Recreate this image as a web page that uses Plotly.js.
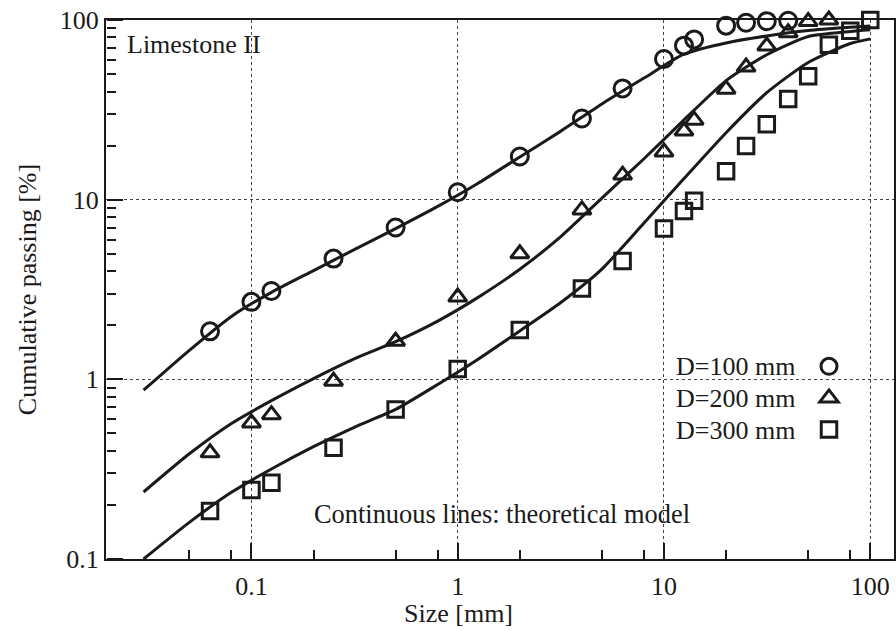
<!DOCTYPE html>
<html>
<head>
<meta charset="utf-8">
<script src="https://cdn.plot.ly/plotly-3.0.1.min.js"></script>
<style>html,body{margin:0;padding:0;background:#fff;}</style>
</head>
<body>
<div id="chart" style="width:896px;height:630px;"></div>
<script>
// ---- data ----
const sieveSizes = [0.063, 0.1, 0.125, 0.25, 0.5, 1, 2, 4, 6.3, 10, 12.5, 14, 20, 25, 31.5, 40, 50, 63, 80, 100];
const passD100 = [1.85, 2.7, 3.1, 4.7, 7.0, 11.0, 17.4, 28.3, 41.6, 60.7, 72, 78, 93, 96.5, 98.5, 99];
const passD200 = [0.39, 0.572, 0.636, 0.976, 1.63, 2.87, 5.0, 8.77, 13.7, 18.45, 24.1, 27.7, 41.2, 54.7, 71.7, 85, 98, 100];
const passD300 = [0.185, 0.242, 0.266, 0.416, 0.68, 1.14, 1.88, 3.2, 4.56, 6.91, 8.66, 9.85, 14.4, 19.9, 26.3, 36.3, 48.6, 72.8, 87.2, 100];

const modelSize = [0.03, 0.05, 0.08, 0.125, 0.2, 0.315, 0.5, 0.8, 1.25, 2, 3.15, 5, 8, 12.5, 20, 31.5, 50, 80, 100];
const modelD100 = [0.87, 1.45, 2.24, 3.05, 4.03, 5.27, 6.9, 9.17, 12.3, 17.3, 24.0, 34.1, 47.5, 64.5, 74.5, 81.5, 87.3, 91, 92.5];
const modelD200 = [0.236, 0.385, 0.568, 0.761, 1.01, 1.30, 1.62, 2.11, 2.85, 4.1, 6.21, 10.2, 16.9, 27.8, 46.0, 64.1, 81, 86.4, 88.3];
const modelD300 = [0.1, 0.16, 0.235, 0.317, 0.422, 0.541, 0.68, 0.936, 1.29, 1.86, 2.67, 4.11, 7.41, 13.1, 23.6, 39.4, 58, 74, 78.5];

const seriesNames = ['D=100 mm', 'D=200 mm', 'D=300 mm'];
const majorTickVals = [0.1, 1, 10, 100];
const xMinorVals = [0.05, 0.08, 0.2, 0.5, 0.8, 2, 5, 8, 20, 50, 80];
const yMinorVals = [0.2,0.3,0.4,0.5,0.6,0.7,0.8,0.9, 2,3,4,5,6,7,8,9, 20,30,40,50,60,70,80,90];

// ---- figure ----
const FONT = '"Liberation Serif", "Times New Roman", Times, serif';
const INK = '#1a1a1a';
const L = 106, R = 894, T = 20, B = 559, W = 896, H = 630;
const px2x = p => (p - L) / (R - L);
const px2y = p => (B - p) / (B - T);
const X_RANGE = [-1.705, 2.115];
const Y_RANGE = [-1, 2];

const lineStyle = {color: INK, width: 3, shape: 'spline', smoothing: 0.6};
const models = [modelD100, modelD200, modelD300];
const measured = [passD100, passD200, passD300];
const symbols = ['circle-open', 'triangle-up-open', 'square-open'];
const sizes = [17, 16, 15.5];

const traces = [];
models.forEach(m => traces.push({
  x: modelSize, y: m, type: 'scatter', mode: 'lines', xaxis: 'x2', yaxis: 'y2',
  line: lineStyle, showlegend: false, hoverinfo: 'skip'
}));
measured.forEach((v, i) => traces.push({
  x: sieveSizes.slice(0, v.length), y: v, type: 'scatter', mode: 'markers',
  name: '', legendrank: i,
  marker: {symbol: symbols[i], size: sizes[i], color: INK, line: {width: 3, color: INK}},
  cliponaxis: false, showlegend: true
}));
// empty trace so the major-tick overlay axes get their own subplot
traces.push({x: [], y: [], type: 'scatter', mode: 'markers', xaxis: 'x3', yaxis: 'y3', showlegend: false, hoverinfo: 'skip'});

const mainAxis = {
  type: 'log', showline: true, linecolor: INK, linewidth: 2, mirror: true,
  ticks: '', tickmode: 'linear', tick0: 0, dtick: 1,
  showgrid: true, gridcolor: '#444', gridwidth: 1, griddash: 'dot',
  zeroline: false,
  tickfont: {family: FONT, size: 26, color: INK},
};
// tick-only overlay axes placed on the frame, facing inward (outside ticks of the opposite side)
const tickAxis = (len) => ({
  type: 'log', showline: false, showgrid: false, zeroline: false,
  ticks: 'outside', ticklen: len, tickwidth: 2, tickcolor: INK,
  tickmode: 'array', showticklabels: false, anchor: 'free', position: 0
});

const layout = {
  width: W, height: H, autosize: false,
  margin: {l: L, r: W - R, t: T, b: H - B},
  paper_bgcolor: '#fff', plot_bgcolor: '#fff',
  font: {family: FONT, size: 26, color: INK},
  showlegend: true,
  legend: {
    x: px2x(809), xanchor: 'left', y: px2y(345.5), yanchor: 'top',
    bgcolor: 'rgba(0,0,0,0)', borderwidth: 0, font: {family: FONT, size: 22},
    traceorder: 'normal', itemclick: false, itemdoubleclick: false
  },
  xaxis: Object.assign({}, mainAxis, {range: X_RANGE, ticklabelstandoff: 3}),
  yaxis: Object.assign({}, mainAxis, {
    range: Y_RANGE,
    title: {text: 'Cumulative passing [%]', font: {family: FONT, size: 26, color: INK}, standoff: 16}
  }),
  xaxis2: Object.assign(tickAxis(9), {range: X_RANGE, tickvals: xMinorVals, overlaying: 'x', side: 'top'}),
  yaxis2: Object.assign(tickAxis(9), {range: Y_RANGE, tickvals: yMinorVals, overlaying: 'y', side: 'right'}),
  xaxis3: Object.assign(tickAxis(16), {range: X_RANGE, tickvals: majorTickVals, overlaying: 'x', side: 'top'}),
  yaxis3: Object.assign(tickAxis(16), {range: Y_RANGE, tickvals: majorTickVals, overlaying: 'y', side: 'right'}),
  annotations: [
    {text: 'Size [mm]', xref: 'paper', yref: 'paper', x: px2x(458), y: px2y(614), xanchor: 'center', yanchor: 'middle', showarrow: false, font: {size: 26}},
    {text: 'Limestone II', xref: 'paper', yref: 'paper', x: px2x(125), y: px2y(44), xanchor: 'left', yanchor: 'middle', showarrow: false, font: {size: 26}},
    {text: 'Continuous lines: theoretical model', xref: 'paper', yref: 'paper', x: px2x(312), y: px2y(514), xanchor: 'left', yanchor: 'middle', showarrow: false, font: {size: 26.4}},
    {text: seriesNames[0], xref: 'paper', yref: 'paper', x: px2x(674), y: px2y(366.5), xanchor: 'left', yanchor: 'middle', showarrow: false, font: {size: 26}},
    {text: seriesNames[1], xref: 'paper', yref: 'paper', x: px2x(674), y: px2y(398.5), xanchor: 'left', yanchor: 'middle', showarrow: false, font: {size: 26}},
    {text: seriesNames[2], xref: 'paper', yref: 'paper', x: px2x(674), y: px2y(430.5), xanchor: 'left', yanchor: 'middle', showarrow: false, font: {size: 26}}
  ]
};

Plotly.newPlot('chart', traces, layout, {staticPlot: true, displayModeBar: false});
</script>
</body>
</html>
